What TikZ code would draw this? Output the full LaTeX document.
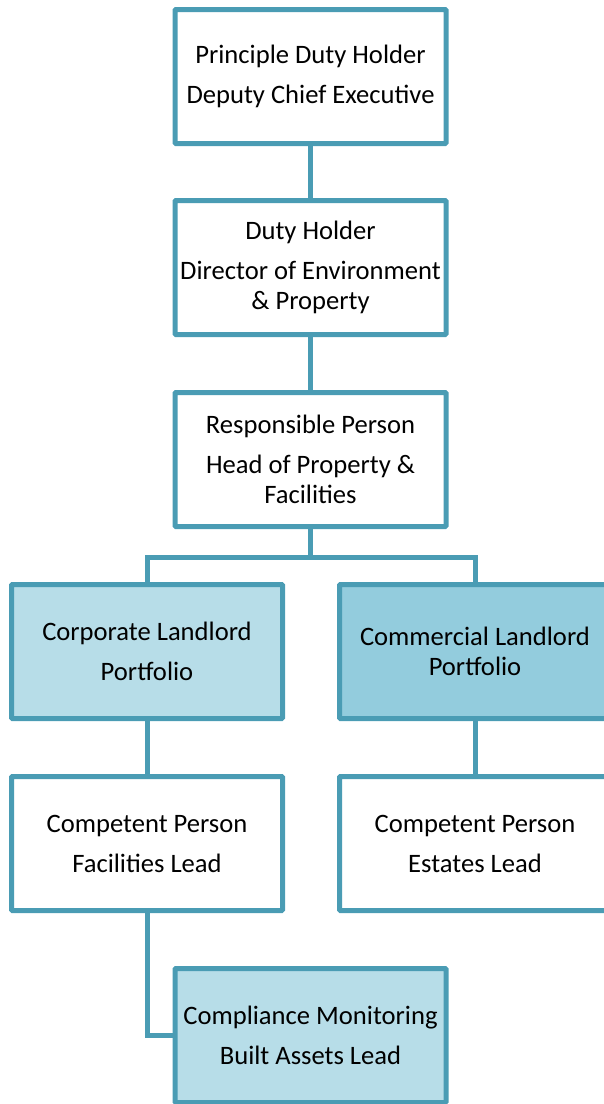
\documentclass[tikz,border=0pt]{standalone}
\usepackage{fontspec}
\setmainfont{Carlito}
\usetikzlibrary{backgrounds}
\definecolor{edge}{HTML}{4A9CB4}
\definecolor{lightfill}{HTML}{B7DDE8}
\definecolor{darkfill}{HTML}{93CCDD}
\tikzset{
  orgbox/.style={draw=edge, line width=5pt, fill=white, minimum width=271pt, minimum height=134pt,
    inner sep=0pt, align=center, rounded corners=1pt,
    font=\fontsize{26.6}{30}\selectfont},
  conn/.style={draw=edge, line width=5pt}
}
\begin{document}
\begin{tikzpicture}[x=1pt,y=-1pt]
\useasboundingbox (0,0) rectangle (603,1104);
\node[orgbox] (pdh) at (310.5,76.5) {Principle Duty Holder\\[10pt]Deputy Chief Executive};
\node[orgbox] (dh) at (310.5,267.5) {Duty Holder\\[10pt]Director of Environment\\\& Property};
\node[orgbox] (rp) at (310.5,459.5) {Responsible Person\\[10pt]Head of Property \&\\Facilities};
\node[orgbox, fill=lightfill] (cl) at (147,651.5) {Corporate Landlord\\[10pt]Portfolio};
\node[orgbox, fill=darkfill] (cm) at (475,651.5) {Commercial Landlord\\Portfolio};
\node[orgbox] (fl) at (147,843.5) {Competent Person\\[10pt]Facilities Lead};
\node[orgbox] (el) at (475,843.5) {Competent Person\\[10pt]Estates Lead};
\node[orgbox, fill=lightfill] (ca) at (310.5,1035.5) {Compliance Monitoring\\[10pt]Built Assets Lead};
\coordinate (split) at (310.5,557);
\begin{scope}[on background layer]
\draw[conn] (pdh.south) -- (dh.north);
\draw[conn] (dh.south) -- (rp.north);
\draw[conn] (rp.south) -- (split);
\draw[conn] (cl.north) |- (split) -| (cm.north);
\draw[conn] (cl.south) -- (fl.north);
\draw[conn] (cm.south) -- (el.north);
\draw[conn] (fl.south) |- (ca.west);
\end{scope}
\end{tikzpicture}
\end{document}
